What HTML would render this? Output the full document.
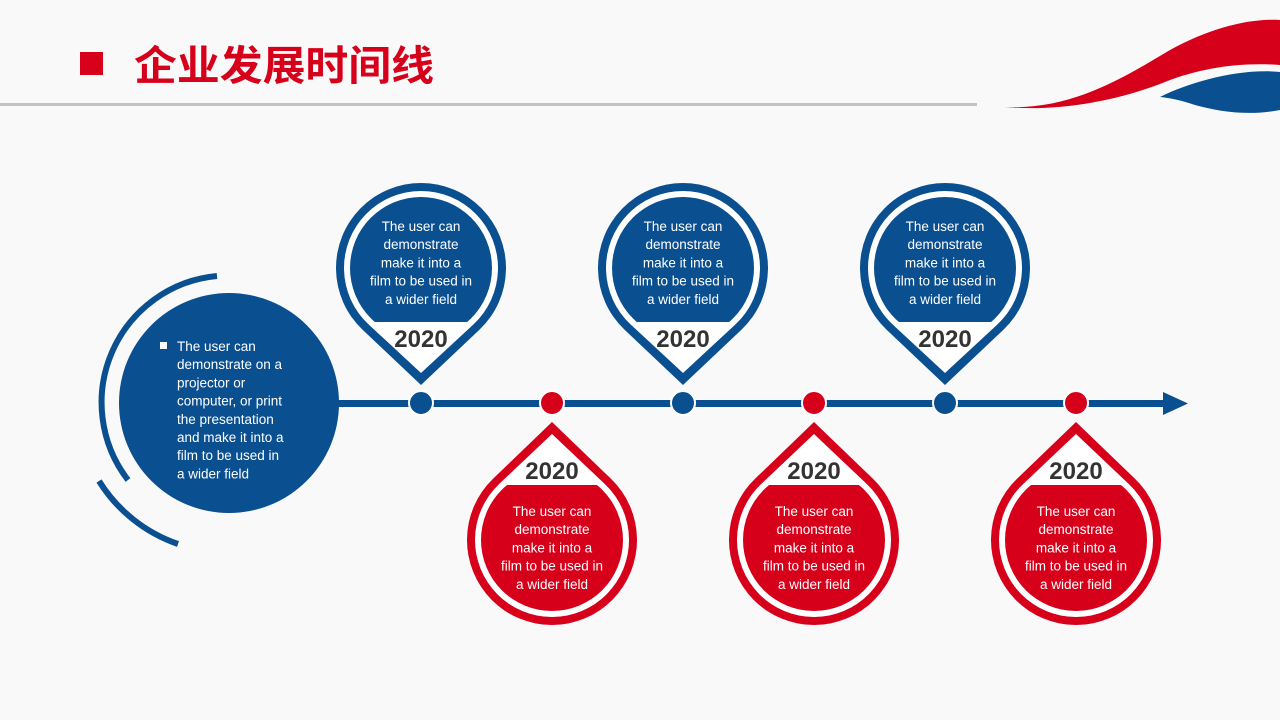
<!DOCTYPE html>
<html><head><meta charset="utf-8"><style>
html,body{margin:0;padding:0;width:1280px;height:720px;overflow:hidden;background:#fafafa}
svg{display:block}
</style></head><body>
<svg id="s" width="1280" height="720" xmlns="http://www.w3.org/2000/svg" font-family="'Liberation Sans','Noto Sans CJK SC',sans-serif">
<rect width="1280" height="720" fill="#f9f9f9"/>
<rect x="80" y="52" width="23" height="23" fill="#d7001a"/>
<text x="134" y="80" font-size="41" font-weight="bold" fill="#d7001a" textLength="300" lengthAdjust="spacingAndGlyphs" font-family="'Noto Sans CJK SC',sans-serif">企业发展时间线</text>
<rect x="0" y="103" width="977" height="3" fill="#c3c3c3"/>
<path d="M1005,107 C1070,110 1120,80 1170,50 C1210,28 1250,18 1280,20 L1280,65 C1240,62 1200,68 1165,82 C1120,100 1060,112 1005,107 Z" fill="#d7001a"/>
<path d="M1160,97 C1190,82 1240,68 1280,72 L1280,110 C1250,116 1220,112 1195,105 C1180,100 1170,98 1160,97 Z" fill="#0a4f8f"/>
<g id="g"></g>
</svg>
<script>
var B="#0a4f8f",R="#d7001a",g=document.getElementById('g'),h='';
function drop(cx,cy,r,d,dir,col){var s=r/d,x=r*Math.sqrt(1-s*s),y=r*s*dir;
return '<path d="M'+(cx-x)+','+(cy+y)+' L'+cx+','+(cy+d*dir)+' L'+(cx+x)+','+(cy+y)+' A'+r+','+r+' 0 1 '+(dir>0?0:1)+' '+(cx-x)+','+(cy+y)+' Z" fill="'+col+'"/>';}
function txt(cx,y0,lines){var o='';lines.forEach(function(l,i){o+='<text x="'+cx+'" y="'+(y0+i*18.2)+'" font-size="13.5" fill="#fff" text-anchor="middle">'+l+'</text>';});return o;}
var L=["The user can","demonstrate","make it into a","film to be used in","a wider field"];
h+='<rect x="330" y="400" width="836" height="7" fill="'+B+'"/><polygon points="1163,392 1188,403.5 1163,415" fill="'+B+'"/>';
h+='<circle cx="229" cy="403" r="110" fill="'+B+'"/>';
h+='<path d="M217,276 A127,127 0 0 0 128,480" fill="none" stroke="'+B+'" stroke-width="6"/>';
h+='<path d="M99,481 A151,151 0 0 0 178,544" fill="none" stroke="'+B+'" stroke-width="6"/>';
h+='<rect x="160" y="342" width="7" height="7" fill="#fff"/>';
["The user can","demonstrate on a","projector or","computer, or print","the presentation","and make it into a","film to be used in","a wider field"].forEach(function(l,i){h+='<text x="177" y="'+(351+i*18.2)+'" font-size="13.5" fill="#fff">'+l+'</text>';});
[421,683,945].forEach(function(cx,k){var cy=268;
h+=drop(cx,cy,85,117,1,B)+drop(cx,cy,77,105,1,'#fff');
h+='<clipPath id="cb'+k+'"><rect x="'+(cx-90)+'" y="180" width="180" height="142"/></clipPath><circle cx="'+cx+'" cy="'+cy+'" r="71" fill="'+B+'" clip-path="url(#cb'+k+')"/>';
h+=txt(cx,231,L)+'<text x="'+cx+'" y="347" font-size="24" font-weight="bold" fill="#333" text-anchor="middle">2020</text>';
h+='<circle cx="'+cx+'" cy="403" r="12" fill="'+B+'" stroke="#fff" stroke-width="2"/>';});
[552,814,1076].forEach(function(cx,k){var cy=540;
h+=drop(cx,cy,85,118,-1,R)+drop(cx,cy,77,106,-1,'#fff');
h+='<clipPath id="cr'+k+'"><rect x="'+(cx-90)+'" y="485" width="180" height="150"/></clipPath><circle cx="'+cx+'" cy="'+cy+'" r="71" fill="'+R+'" clip-path="url(#cr'+k+')"/>';
h+=txt(cx,516,L)+'<text x="'+cx+'" y="479" font-size="24" font-weight="bold" fill="#333" text-anchor="middle">2020</text>';
h+='<circle cx="'+cx+'" cy="403" r="12" fill="'+R+'" stroke="#fff" stroke-width="2"/>';});
g.innerHTML=h;
</script>
</body></html>
